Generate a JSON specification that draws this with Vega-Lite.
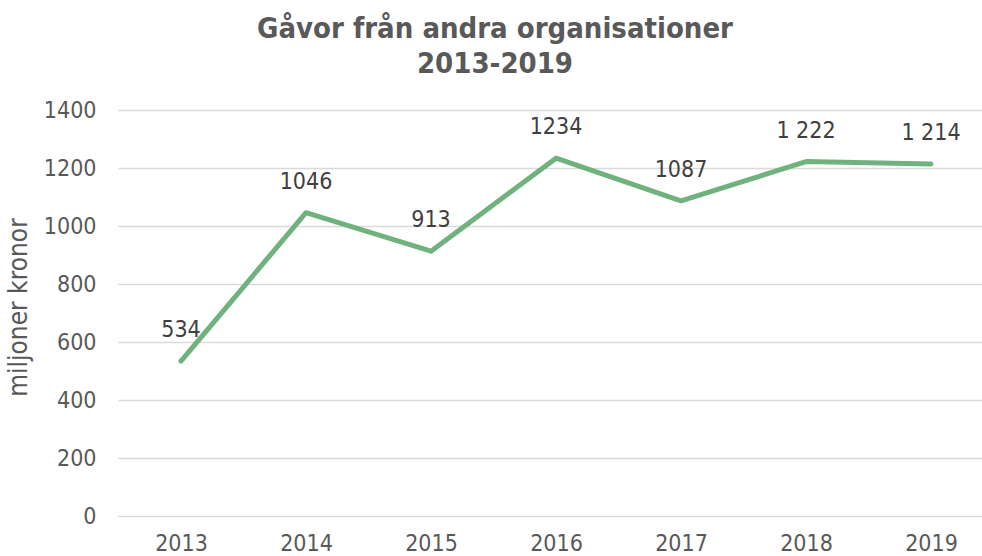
{
  "$schema": "https://vega.github.io/schema/vega-lite/v6.json",
  "autosize": {"type": "none"},
  "padding": {"left": 118, "top": 110, "right": 0, "bottom": 40},
  "width": 864,
  "height": 406,
  "background": "white",
  "config": {"view": {"stroke": null}, "font": "DejaVu Sans Condensed"},
  "title": {
    "text": ["Gåvor från andra organisationer", "2013-2019"],
    "font": "DejaVu Sans Condensed",
    "fontSize": 29,
    "fontWeight": "bold",
    "color": "#595959",
    "anchor": "middle",
    "frame": "group",
    "dx": -55,
    "offset": 20,
    "lineHeight": 35
  },
  "data": {
    "values": [
      {"year": 2013, "value": 534, "label": "534"},
      {"year": 2014, "value": 1046, "label": "1046"},
      {"year": 2015, "value": 913, "label": "913"},
      {"year": 2016, "value": 1234, "label": "1234"},
      {"year": 2017, "value": 1087, "label": "1087"},
      {"year": 2018, "value": 1222, "label": "1 222"},
      {"year": 2019, "value": 1214, "label": "1 214"}
    ]
  },
  "encoding": {
    "x": {
      "field": "year",
      "type": "quantitative",
      "scale": {"domain": [2012.496, 2019.408], "nice": false, "zero": false},
      "axis": {
        "title": null,
        "values": [2013, 2014, 2015, 2016, 2017, 2018, 2019],
        "format": "d",
        "grid": false,
        "domain": false,
        "ticks": false,
        "labelFontSize": 23,
        "labelColor": "#595959",
        "labelPadding": 16,
        "labelFont": "DejaVu Sans Condensed"
      }
    },
    "y": {
      "field": "value",
      "type": "quantitative",
      "scale": {"domain": [0, 1400], "nice": false},
      "axis": {
        "title": "miljoner kronor",
        "titleFontSize": 26,
        "titleFontWeight": "normal",
        "titleColor": "#595959",
        "titleFont": "DejaVu Sans Condensed",
        "titlePadding": 12,
        "titleY": 197,
        "values": [0, 200, 400, 600, 800, 1000, 1200, 1400],
        "format": "d",
        "grid": true,
        "gridColor": "#D9D9D9",
        "gridWidth": 1.5,
        "domain": false,
        "ticks": false,
        "labelFontSize": 23,
        "labelColor": "#595959",
        "labelPadding": 22,
        "labelFont": "DejaVu Sans Condensed"
      }
    }
  },
  "layer": [
    {
      "mark": {"type": "line", "color": "#70B27E", "strokeWidth": 5, "strokeCap": "round", "strokeJoin": "round"}
    },
    {
      "mark": {"type": "text", "fontSize": 23, "color": "#404040", "baseline": "middle", "dy": -31, "font": "DejaVu Sans Condensed"},
      "encoding": {"text": {"field": "label"}}
    }
  ]
}
